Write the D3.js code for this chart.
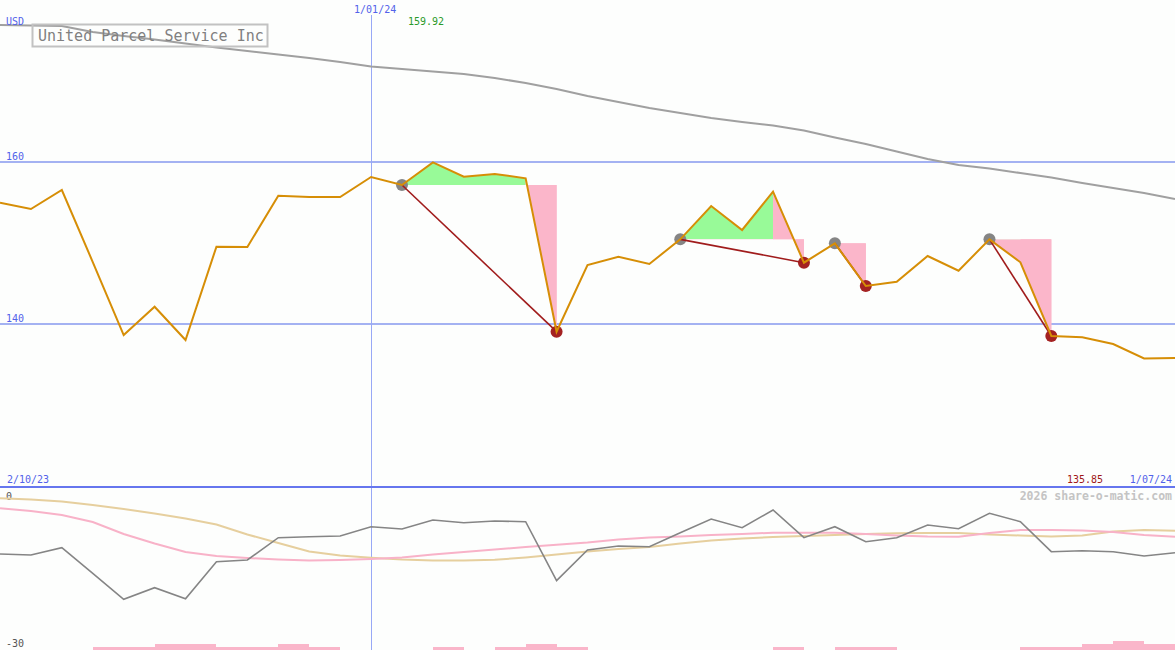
<!DOCTYPE html>
<html>
<head>
<meta charset="utf-8">
<script src="https://cdn.jsdelivr.net/npm/d3@7"></script>
<style>
html,body{margin:0;padding:0;background:#fdfefd;}
svg{display:block;}
text{font-family:"DejaVu Sans Mono","Liberation Mono",monospace;}
</style>
</head>
<body>
<svg id="chart" width="1175" height="650"></svg>
<script>
// ---- data (weekly closes, UPS, 2 Oct 2023 .. 1 Jul 2024) ----
const closes = [154.96,154.18,156.52,147.66,138.68,142.16,138.07,149.55,149.51,155.82,
  155.66,155.66,158.12,157.13,159.92,158.15,158.49,157.96,139.09,147.29,
  148.31,147.42,150.45,154.55,151.6,156.31,147.58,149.96,144.71,145.24,
  148.4,146.59,150.45,147.63,138.56,138.4,137.58,135.8,135.85];
const longAvg = [176.81,176.75,176.69,175.95,175.46,175.03,174.54,174.05,173.62,173.19,
  172.76,172.27,171.71,171.40,171.09,170.79,170.30,169.68,168.94,168.08,
  167.34,166.61,165.99,165.38,164.88,164.45,163.84,162.98,162.18,161.25,
  160.33,159.59,159.16,158.61,158.06,157.38,156.77,156.15,155.41];
const momentum = [-12.36,-12.55,-11.16,-16.1,-21.05,-18.82,-20.93,-13.84,-13.51,-9.24,
  -9.05,-8.91,-7.13,-7.57,-5.85,-6.36,-6.04,-6.17,-17.48,-11.6,
  -10.83,-10.96,-8.28,-5.65,-7.32,-3.93,-9.24,-7.13,-10.01,-9.24,
  -6.8,-7.51,-4.56,-6.17,-11.92,-11.73,-11.92,-12.75,-12.11];
const slowLine = [-1.69,-1.92,-2.30,-2.97,-3.74,-4.60,-5.56,-6.71,-8.63,-10.25,
  -11.88,-12.65,-13.09,-13.42,-13.61,-13.61,-13.48,-13.03,-12.46,-11.88,
  -11.41,-11.02,-10.35,-9.78,-9.39,-9.10,-8.91,-8.72,-8.53,-8.38,
  -8.34,-8.34,-8.63,-8.82,-9.01,-8.82,-8.05,-7.76,-7.90];
const fastLine = [-3.60,-4.12,-4.89,-6.23,-8.53,-10.35,-11.98,-12.75,-13.13,-13.42,
  -13.61,-13.52,-13.32,-13.04,-12.46,-11.98,-11.50,-11.02,-10.58,-10.16,
  -9.58,-9.20,-9.01,-8.72,-8.53,-8.28,-8.28,-8.28,-8.53,-8.82,
  -9.01,-9.05,-8.34,-7.76,-7.76,-7.86,-8.15,-8.72,-9.05];
const barLevels = [0,0,0,1,1,2,2,1,1,2,
  1,0,0,0,1,0,1,2,1,0,
  0,0,0,0,0,1,0,1,1,0,
  0,0,0,1,1,2,3,2];
const tradeEntries = [13,22,27,32];
const tradeExits   = [18,26,28,34];
const priceTicks = [160,140];
const lowerTicks = [0,-30];
const markerIndex = 12;
const markerLabel = "1/01/24";
const startLabel = "2/10/23";
const endLabel = "1/07/24";
const maxLabel = "159.92";
const lastLabel = "135.85";
const title = "United Parcel Service Inc";
const currency = "USD";
const credit = "2026 share-o-matic.com";

// ---- layout ----
const W = 1175, H = 650;
const svg = d3.select("#chart");
const x = d3.scaleLinear().domain([0, closes.length - 1]).range([0, W]);
const y = d3.scaleLinear().domain([140, 160]).range([324.3, 161.7]);
const yLow = d3.scaleLinear().domain([-30, 0]).range([646, 489.5]);
const yBar = d3.scaleLinear().domain([0, 3]).range([650, 641]);

svg.append("rect").attr("width", W).attr("height", H).attr("fill", "#fdfefd");

// grid lines
svg.selectAll(".grid").data(priceTicks).join("line")
  .attr("x1", 0).attr("x2", W)
  .attr("y1", d => Math.round(y(d))).attr("y2", d => Math.round(y(d)))
  .attr("stroke", "#a4b2f2").attr("stroke-width", 2).attr("shape-rendering", "crispEdges");
svg.selectAll(".glab").data(priceTicks).join("text")
  .attr("x", 6).attr("y", d => y(d) - 2)
  .attr("font-size", 10).attr("fill", "#5262ea").text(d => d);

// vertical date marker
svg.append("line")
  .attr("x1", Math.round(x(markerIndex)) + 0.5).attr("x2", Math.round(x(markerIndex)) + 0.5)
  .attr("y1", 15).attr("y2", H)
  .attr("stroke", "#98a8f6").attr("stroke-width", 1).attr("shape-rendering", "crispEdges");

// long average
const line = (arr, ys) => d3.line().x((d, i) => x(i)).y(d => ys(d))(arr);
svg.append("path").attr("d", line(longAvg, y))
  .attr("fill", "none").attr("stroke", "#a0a0a0").attr("stroke-width", 2);

// title box
svg.append("rect").attr("x", 32.5).attr("y", 24.5).attr("width", 235).attr("height", 22)
  .attr("fill", "none").attr("stroke", "#c2c2c2").attr("stroke-width", 2);
svg.append("text").attr("x", 38).attr("y", 41).attr("font-size", 15)
  .attr("fill", "#808080").text(title);

// trade areas
const defs = svg.append("defs");
tradeEntries.forEach((en, k) => {
  const ex = tradeExits[k];
  const base = closes[en];
  const yb = y(base);
  defs.append("clipPath").attr("id", "up" + k).append("rect")
    .attr("x", 0).attr("y", 0).attr("width", W).attr("height", yb);
  defs.append("clipPath").attr("id", "dn" + k).append("rect")
    .attr("x", 0).attr("y", yb).attr("width", W).attr("height", H - yb);
  const area = d3.area().x(i => x(i)).y0(yb).y1(i => y(closes[i]));
  const body = d3.range(en, ex);
  if (body.length > 1) {
    svg.append("path").attr("d", area(body)).attr("fill", "#98fa98").attr("clip-path", `url(#up${k})`);
  }
  svg.append("path").attr("d", area(d3.range(en, ex + 1))).attr("fill", "#fbb6ca").attr("clip-path", `url(#dn${k})`);
  svg.append("path").attr("d", area([ex - 1, ex])).attr("fill", "#fbb6ca");
});

// trade dots
svg.selectAll(".entry").data(tradeEntries).join("circle")
  .attr("cx", d => x(d)).attr("cy", d => y(closes[d])).attr("r", 6).attr("fill", "#858585");
svg.selectAll(".exit").data(tradeExits).join("circle")
  .attr("cx", d => x(d)).attr("cy", d => y(closes[d])).attr("r", 6).attr("fill", "#a42222");
// trade lines
tradeEntries.forEach((en, k) => {
  const ex = tradeExits[k];
  svg.append("line")
    .attr("x1", x(en)).attr("y1", y(closes[en]))
    .attr("x2", x(ex)).attr("y2", y(closes[ex]))
    .attr("stroke", "#a01c1c").attr("stroke-width", 1.6);
});

// price line
svg.append("path").attr("d", line(closes, y))
  .attr("fill", "none").attr("stroke", "#d68e06").attr("stroke-width", 2);

// top labels
svg.append("text").attr("x", 6).attr("y", 25).attr("font-size", 10).attr("fill", "#5262ea").text(currency);
svg.append("text").attr("x", x(markerIndex) - 17).attr("y", 13)
  .attr("font-size", 10).attr("fill", "#5262ea").text(markerLabel);
svg.append("text").attr("x", 408).attr("y", 25).attr("font-size", 10).attr("fill", "#2a9a2a").text(maxLabel);

// lower panel separator
svg.append("line").attr("x1", 0).attr("x2", W).attr("y1", 487).attr("y2", 487)
  .attr("stroke", "#6676ee").attr("stroke-width", 2).attr("shape-rendering", "crispEdges");
svg.append("text").attr("x", 7).attr("y", 483).attr("font-size", 10).attr("fill", "#5262ea").text(startLabel);
svg.append("text").attr("x", 1172).attr("y", 483).attr("text-anchor", "end")
  .attr("font-size", 10).attr("fill", "#5262ea").text(endLabel);
svg.append("text").attr("x", 1067).attr("y", 483).attr("font-size", 10).attr("fill", "#a01818").text(lastLabel);
svg.append("text").attr("x", 1172).attr("y", 500).attr("text-anchor", "end")
  .attr("font-size", 11.5).attr("font-weight", "bold").attr("fill", "#c4c4c4").text(credit);

// lower labels
svg.selectAll(".llab").data(lowerTicks).join("text")
  .attr("x", 6).attr("y", d => d === 0 ? 499.5 : 646.5)
  .attr("font-size", 10).attr("fill", "#555555").text(d => d);

// lower lines
svg.append("path").attr("d", line(slowLine, yLow))
  .attr("fill", "none").attr("stroke", "#e6cf9e").attr("stroke-width", 2);
svg.append("path").attr("d", line(fastLine, yLow))
  .attr("fill", "none").attr("stroke", "#f8b2c8").attr("stroke-width", 2);
svg.append("path").attr("d", line(momentum, yLow))
  .attr("fill", "none").attr("stroke", "#858585").attr("stroke-width", 1.6);

// bottom bars
svg.selectAll(".bar").data(barLevels).join("rect")
  .attr("x", (d, i) => x(i)).attr("width", (d, i) => x(i + 1) - x(i))
  .attr("y", d => yBar(d)).attr("height", d => yBar(0) - yBar(d))
  .attr("fill", "#fab6ca").attr("shape-rendering", "crispEdges");
</script>
</body>
</html>
